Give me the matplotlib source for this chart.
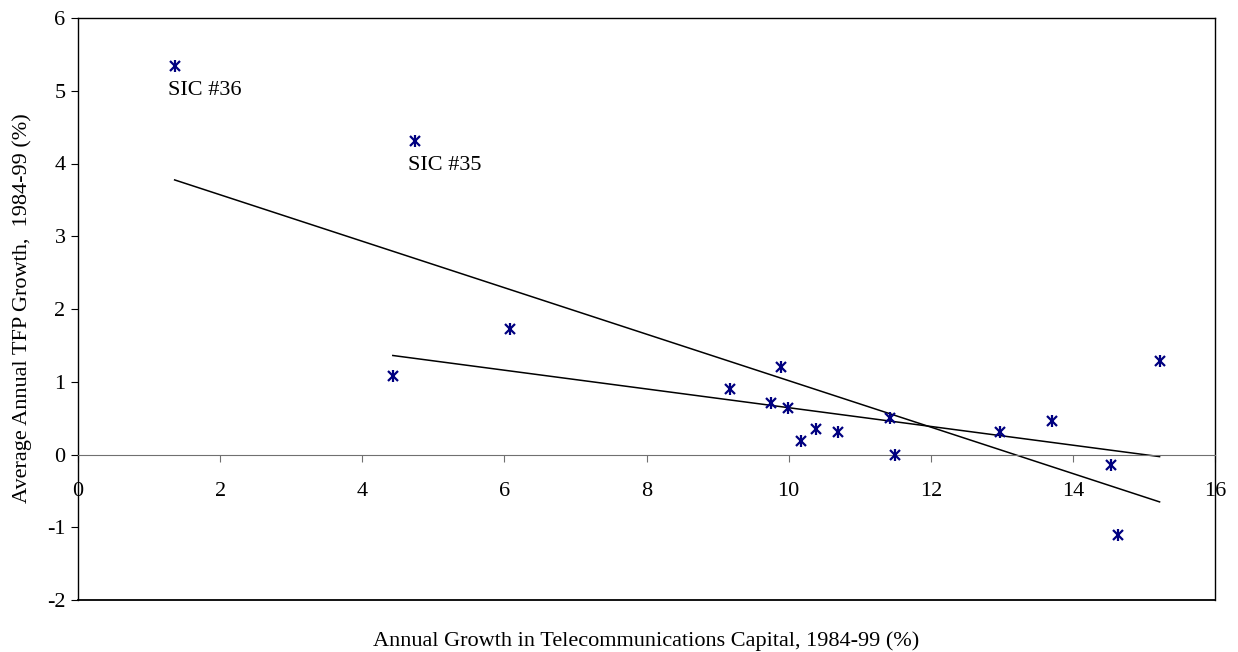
import numpy as np
import matplotlib.pyplot as plt

plt.rcParams['font.family'] = ['Liberation Serif', 'DejaVu Serif']
plt.rcParams['axes.unicode_minus'] = False

# telecom capital growth (x) and TFP growth (y), by industry
telecom_growth = [1.36, 4.74, 4.43, 6.08, 9.17, 9.89, 9.75, 9.99, 10.17,
                  10.38, 10.69, 11.42, 11.50, 12.98, 13.71, 14.53, 14.64, 15.22]
tfp_growth = [5.34, 4.31, 1.08, 1.73, 0.90, 1.20, 0.71, 0.64, 0.19,
              0.35, 0.31, 0.50, 0.00, 0.31, 0.46, -0.14, -1.11, 1.29]
point_labels = {0: 'SIC #36', 1: 'SIC #35'}

x = np.array(telecom_growth)
y = np.array(tfp_growth)

fig = plt.figure(figsize=(12.38, 6.52), dpi=100)
ax = fig.add_axes([78 / 1238, 52 / 652, (1215 - 78) / 1238, (600 - 18) / 652])

navy = '#000080'
ax.plot(x, y, linestyle='none', marker='x', markersize=7, mew=1.6, color=navy, zorder=3)
ax.plot(x, y, linestyle='none', marker='|', markersize=8, mew=1.6, color=navy, zorder=3)

# linear trend, all industries
k1, b1 = np.polyfit(x, y, 1)
xs = np.array([x.min(), x.max()])
ax.plot(xs, k1 * xs + b1, color='black', lw=1.1, zorder=2)

# linear trend, without SIC 35 and 36
mask = np.ones(len(x), bool)
mask[list(point_labels)] = False
k2, b2 = np.polyfit(x[mask], y[mask], 1)
xs2 = np.array([x[mask].min(), x[mask].max()])
ax.plot(xs2, k2 * xs2 + b2, color='black', lw=1.1, zorder=2)

for i, lab in point_labels.items():
    ax.annotate(lab, (x[i], y[i]), xytext=(-5, -11), textcoords='offset points',
                fontsize=16, va='top', ha='left')

ax.set_xlim(0, 16)
ax.set_ylim(-2, 6)
ax.set_xticks(range(0, 17, 2))
ax.set_yticks(range(-2, 7))

# x axis crosses at y=0
ax.spines['bottom'].set_position(('data', 0))
ax.spines['bottom'].set_color('#707070')
ax.axhline(-2, color='black', lw=1.3, clip_on=False)
for s in ['top', 'right', 'left']:
    ax.spines[s].set_linewidth(1.0)

ax.tick_params(axis='x', direction='out', length=5, pad=15, labelsize=16, color='#707070')
ax.tick_params(axis='y', direction='out', length=5, pad=4, labelsize=16)

fig.text(22 / 1238, 1 - 308 / 652, 'Average Annual TFP Growth,  1984-99 (%)',
         fontsize=16, rotation=90, ha='center', va='center')
fig.text(646 / 1238, 1 - 641 / 652, 'Annual Growth in Telecommunications Capital, 1984-99 (%)',
         fontsize=16, ha='center', va='center')

fig.savefig('out.png', dpi=100)
